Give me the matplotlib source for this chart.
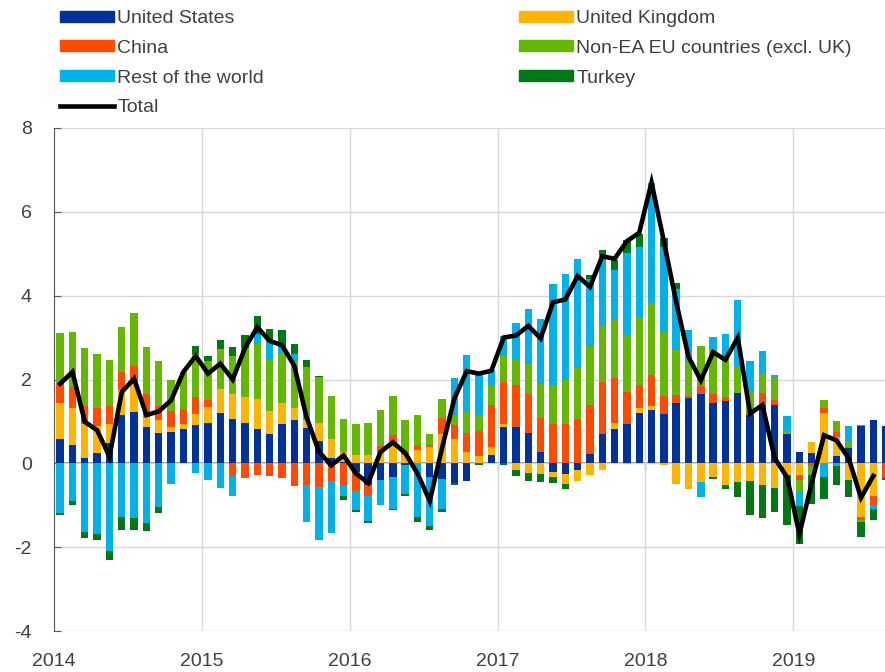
import numpy as np
import matplotlib
matplotlib.use('Agg')
import matplotlib.pyplot as plt
from matplotlib.patches import Patch
from matplotlib.lines import Line2D

plt.rcParams['font.family'] = ['Liberation Sans', 'DejaVu Sans']
plt.rcParams['axes.unicode_minus'] = False

# monthly contributions, Jan 2014 - Aug 2019
us = [0.57, 0.44, 0.12, 0.25, 0.48, 1.15, 1.23, 0.86, 0.72, 0.74, 0.82, 0.91,
      0.97, 1.20, 1.05, 0.97, 0.82, 0.70, 0.94, 1.03, 0.85, 0.53, 0.13, 0.04,
      -0.20, -0.51, -0.40, -0.32, -0.04, 0.00, -0.32, -0.38, -0.48, -0.41, 0.00, 0.20,
      0.87, 0.87, 0.73, 0.27, -0.20, -0.25, -0.16, 0.23, 0.69, 0.82, 0.94, 1.19,
      1.27, 1.17, 1.44, 1.57, 1.66, 1.44, 1.49, 1.68, 1.15, 1.39, 1.40, 0.70,
      0.26, 0.25, 0.00, 0.17, 0.36, 0.88, 1.04, 0.90]
uk = [0.86, 0.87, 0.81, 0.64, 0.47, 0.59, 0.67, 0.25, 0.31, 0.13, 0.11, 0.26,
      0.38, 0.57, 0.60, 0.61, 0.71, 0.56, 0.49, 0.29, 0.18, 0.44, 0.44, 0.22,
      0.20, 0.19, 0.28, 0.48, 0.21, 0.32, 0.40, 0.71, 0.59, 0.26, 0.17, 0.18,
      0.08, -0.16, -0.24, -0.25, -0.12, -0.24, -0.25, -0.29, -0.17, 0.15, -0.02, 0.12,
      0.09, -0.05, -0.50, -0.62, -0.44, -0.32, -0.51, -0.45, -0.41, -0.51, -0.58, -0.28,
      -0.27, 0.26, 1.20, 0.46, -0.39, -1.28, -0.78, 0.00]
china = [0.47, 0.51, 0.44, 0.44, 0.42, 0.45, 0.43, 0.54, 0.34, 0.39, 0.36, 0.41,
         0.17, 0.00, -0.30, -0.36, -0.28, -0.30, -0.36, -0.54, -0.52, -0.57, -0.42, -0.55,
         -0.47, -0.28, 0.13, 0.19, 0.03, 0.12, 0.04, 0.38, 0.32, 0.47, 0.61, 1.01,
         0.99, 0.99, 0.92, 0.82, 0.95, 0.93, 1.05, 1.16, 1.26, 1.07, 0.77, 0.57,
         0.74, 0.44, 0.20, 0.04, 0.18, 0.22, 0.09, 0.00, 0.05, 0.29, 0.12, 0.00,
         -0.13, -0.07, 0.13, 0.12, 0.03, -0.06, -0.21, -0.35]
non_ea_eu = [1.20, 1.32, 1.39, 1.29, 1.10, 1.07, 1.26, 1.12, 1.08, 0.74, 0.90, 1.03,
             0.93, 0.96, 0.92, 1.17, 1.32, 1.21, 1.20, 1.09, 1.28, 1.09, 1.04, 0.79,
             0.73, 0.78, 0.86, 0.94, 0.79, 0.71, 0.26, 0.45, 0.25, 0.51, 0.38, 0.45,
             0.62, 0.61, 0.73, 0.81, 0.93, 1.06, 1.23, 1.40, 1.33, 1.38, 1.34, 1.59,
             1.72, 1.52, 1.07, 0.80, 0.96, 1.05, 0.97, 0.63, 0.50, 0.44, 0.52, 0.06,
             -0.27, -0.22, 0.17, 0.25, 0.11, -0.06, 0.00, 0.00]
rest = [-1.19, -0.89, -1.65, -1.68, -2.08, -1.29, -1.31, -1.43, -1.03, -0.50, 0.00, -0.22,
        -0.40, -0.58, -0.47, 0.00, 0.24, 0.46, 0.14, 0.19, -0.89, -1.25, -1.24, -0.24,
        -0.44, -0.59, -0.59, -0.77, -0.69, -1.29, -1.17, -0.71, 0.87, 1.35, 0.99, 0.38,
        0.47, 0.87, 1.30, 1.54, 2.40, 2.52, 2.59, 1.60, 1.68, 1.20, 1.97, 1.68,
        2.86, 2.03, 1.44, 0.76, -0.37, 0.30, 0.54, 1.59, 0.75, 0.57, 0.06, 0.36,
        -0.35, 0.00, -0.33, -0.07, 0.39, 0.04, -0.09, 0.00]
turkey = [-0.04, -0.10, -0.12, -0.16, -0.23, -0.29, -0.27, -0.19, -0.16, 0.00, 0.00, 0.18,
          0.10, 0.21, 0.20, 0.32, 0.43, 0.28, 0.40, 0.25, 0.16, 0.03, 0.00, -0.08,
          -0.06, -0.04, 0.00, -0.03, -0.04, -0.11, -0.11, -0.08, -0.04, 0.00, -0.03, 0.00,
          -0.04, -0.14, -0.18, -0.19, -0.14, -0.13, 0.00, 0.10, 0.13, 0.23, 0.30, 0.31,
          0.00, 0.21, 0.16, 0.01, 0.00, -0.05, -0.11, -0.35, -0.83, -0.80, -0.57, -1.18,
          -0.91, -0.68, -0.52, -0.44, -0.42, -0.36, -0.28, -0.04]
total = [1.90, 2.18, 0.99, 0.79, 0.16, 1.70, 2.02, 1.15, 1.24, 1.50, 2.18, 2.56,
         2.14, 2.38, 2.00, 2.75, 3.25, 2.92, 2.82, 2.33, 1.10, 0.28, -0.05, 0.19,
         -0.24, -0.47, 0.27, 0.50, 0.25, -0.24, -0.90, 0.37, 1.55, 2.20, 2.14, 2.21,
         3.00, 3.05, 3.28, 2.98, 3.84, 3.91, 4.47, 4.21, 4.94, 4.88, 5.30, 5.50,
         6.70, 5.30, 3.85, 2.54, 1.98, 2.65, 2.47, 3.00, 1.19, 1.39, 0.12, -0.33,
         -1.69, -0.47, 0.67, 0.55, 0.12, -0.82, -0.30]

years = ['2014', '2015', '2016', '2017', '2018', '2019']

series = [
    ('United States', us, '#003299'),
    ('United Kingdom', uk, '#FFB400'),
    ('China', china, '#FF4B00'),
    ('Non-EA EU countries (excl. UK)', non_ea_eu, '#65B800'),
    ('Rest of the world', rest, '#00B1EA'),
    ('Turkey', turkey, '#007816'),
]

fig = plt.figure(figsize=(8.85, 6.72), dpi=100)
ax = fig.add_axes([54 / 885, 1 - 631 / 672, 1 - 54 / 885, (631 - 128) / 672])

x = np.arange(len(us)) + 0.5
pos_base = np.zeros(len(us))
neg_base = np.zeros(len(us))
for name, vals, col in series:
    v = np.array(vals)
    pos = np.where(v > 0, v, 0)
    neg = np.where(v < 0, v, 0)
    ax.bar(x, pos, 0.6, bottom=pos_base, color=col, linewidth=0, zorder=2)
    ax.bar(x, neg, 0.6, bottom=neg_base, color=col, linewidth=0, zorder=2)
    pos_base += pos
    neg_base += neg

ax.plot(x[:len(total)], total, color='black', lw=3.3, zorder=4,
        solid_joinstyle='miter')

# axes styling
ax.set_xlim(0, 67.45)
ax.set_ylim(-4, 8)
ax.set_yticks([-4, -2, 0, 2, 4, 6, 8])
ax.set_xticks(np.arange(0, 72, 12))
ax.set_xticklabels(years)
ax.grid(True, color='#d9d9d9', lw=1, zorder=0)
ax.axhline(0, color='#808080', lw=1.2, zorder=1.5)
ax.plot(np.arange(12, 72, 12), np.zeros(5), ls='none', marker=3, ms=5,
        mew=1, color='#808080', zorder=1.5)
for s in ['top', 'right', 'bottom']:
    ax.spines[s].set_visible(False)
ax.spines['left'].set_color('#595959')
ax.tick_params(axis='y', direction='in', length=5, color='#595959',
               labelsize=14, labelcolor='#404040', pad=16)
ax.tick_params(axis='x', length=0, labelsize=14, labelcolor='#404040', pad=16)

# legend in two columns
h1 = [Patch(color='#003299'), Patch(color='#FF4B00'), Patch(color='#00B1EA'),
      Line2D([], [], color='black', lw=3.3)]
l1 = ['United States', 'China', 'Rest of the world', 'Total']
h2 = [Patch(color='#FFB400'), Patch(color='#65B800'), Patch(color='#007816')]
l2 = ['United Kingdom', 'Non-EA EU countries (excl. UK)', 'Turkey']
kw = dict(frameon=False, fontsize=14, handlelength=2.8, handleheight=0.5,
          handletextpad=0.15, labelspacing=0.66, borderpad=0, borderaxespad=0,
          loc='upper left', labelcolor='#404040')
fig.legend(h1, l1, bbox_to_anchor=(60 / 885, 1 - 10 / 672), **kw)
fig.legend(h2, l2, bbox_to_anchor=(519 / 885, 1 - 10 / 672), **kw)

fig.savefig('out.png', dpi=100)
